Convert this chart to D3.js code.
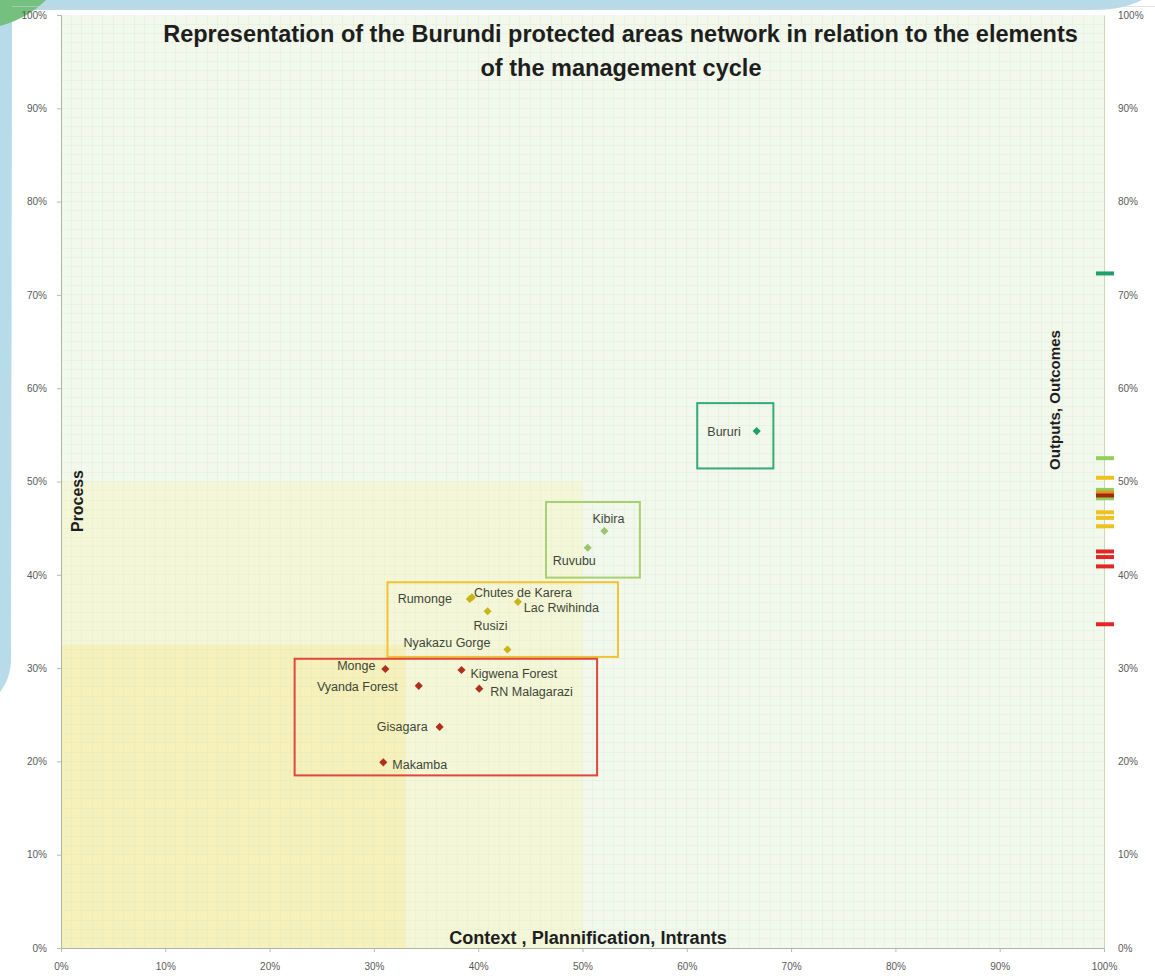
<!DOCTYPE html>
<html><head><meta charset="utf-8">
<script src="https://cdn.jsdelivr.net/npm/d3@7"></script>
<style>body{margin:0;background:#fff}svg{display:block}</style>
</head><body><svg id="c" width="1155" height="979"></svg>
<script>
// ---- data ----
const sites = ["Bururi","Kibira","Ruvubu","Rumonge","Chutes de Karera","Lac Rwihinda","Rusizi","Nyakazu Gorge","Monge","Kigwena Forest","Vyanda Forest","RN Malagarazi","Gisagara","Makamba"];
const siteGroup = ["g1","g2","g2","g3","g3","g3","g3","g3","g4","g4","g4","g4","g4","g4"];
const contextScore = [66.7,52.1,50.5,39.2,39.4,43.8,40.9,42.8,31.1,38.4,34.3,40.1,36.3,30.9];
const processScore = [55.4,44.7,42.9,37.4,37.6,37.1,36.1,32.0,29.9,29.8,28.1,27.8,23.7,19.9];
const outputValues = [72.3,52.5,49.1,48.2,50.4,48.8,46.7,46.1,45.2,48.5,42.5,41.9,40.9,34.7];
const outputGroup  = ["g1","g2","g2","g2","g3","g3o","g3","g3","g3","g4d","g4","g4","g4","g4"];
const groups = ["g1","g2","g3","g4"];
const boxX0 = [61.0,46.5,31.3,22.4];
const boxX1 = [68.3,55.5,53.4,51.4];
const boxY0 = [51.4,39.7,31.2,18.5];
const boxY1 = [58.4,47.8,39.2,31.0];
const zoneX = [100,50,33];
const zoneY = [100,50,32.5];
const tickValues = [0,10,20,30,40,50,60,70,80,90,100];

// ---- styling (not data) ----
const markColor = {g1:"#1f9e6e",g2:"#9cc46e",g3:"#c9b518",g4:"#b0301f"};
const boxColor  = {g1:"#35a97a",g2:"#a8cf72",g3:"#f0c234",g4:"#e0463e"};
const tickColor = {g1:"#1f9e6e",g2:"#92cf5e",g3:"#f0c020",g3o:"#e8901c",g4:"#e22626",g4d:"#a2280e"};
const zoneColor = ["#f2f8ec","#f4f6d8","#f6f0ba"];
const labelPlace = {
  "Bururi":["end",-16,5], "Kibira":["start",-12,-8], "Ruvubu":["start",-35,17],
  "Rumonge":["end",-18,4], "Chutes de Karera":["start",2,0], "Lac Rwihinda":["start",6,10],
  "Rusizi":["middle",3,19], "Nyakazu Gorge":["end",-17,-2], "Monge":["end",-10,1],
  "Kigwena Forest":["start",9,8], "Vyanda Forest":["end",-21,5], "RN Malagarazi":["start",11,7],
  "Gisagara":["end",-12,4], "Makamba":["start",9,7]
};
const NARROW = "'Liberation Sans Narrow','Liberation Sans',Arial,sans-serif";

const svg = d3.select("#c");
const x = d3.scaleLinear().domain([0,100]).range([61,1104]);
const y = d3.scaleLinear().domain([0,100]).range([948,15]);

// decorative background
svg.append("path")
  .attr("d","M0,0 L1142,0 C1128,7 1112,10 1092,10 L14,10 L12,12 L11,662 C10,676 5,686 0,692 Z")
  .attr("fill","#b7dbe9");
svg.append("path").attr("d","M0,0 L46,0 C34,12 18,21 0,26 Z").attr("fill","#74c07e");
svg.append("line").attr("x1",12).attr("x2",1155).attr("y1",6.5).attr("y2",6.5)
  .attr("stroke","#d0d0d0").attr("stroke-width",1).attr("opacity",0.6);

// zones
svg.append("g").selectAll("rect").data(zoneX).join("rect")
  .attr("x",x(0)).attr("y",(d,i)=>y(zoneY[i]))
  .attr("width",d=>x(d)-x(0)).attr("height",(d,i)=>y(0)-y(zoneY[i]))
  .attr("fill",(d,i)=>zoneColor[i]);

// fine grid every 1%
const grid = svg.append("g").attr("stroke","#cfe4bf").attr("stroke-width",0.6).attr("opacity",0.35).attr("shape-rendering","crispEdges");
const g1 = d3.range(1,100);
grid.selectAll("line.v").data(g1).join("line").attr("class","v")
  .attr("x1",d=>x(d)).attr("x2",d=>x(d)).attr("y1",y(100)).attr("y2",y(0));
grid.selectAll("line.h").data(g1).join("line").attr("class","h")
  .attr("y1",d=>y(d)).attr("y2",d=>y(d)).attr("x1",x(0)).attr("x2",x(100));

// axes
const fmt = d=>d+"%";
const axL = svg.append("g").attr("transform",`translate(${x(0)},0)`)
  .call(d3.axisLeft(y).tickValues(tickValues).tickFormat(fmt).tickSize(4).tickPadding(10));
const axB = svg.append("g").attr("transform",`translate(0,${y(0)})`)
  .call(d3.axisBottom(x).tickValues(tickValues).tickFormat(fmt).tickSize(4).tickPadding(11));
const axR = svg.append("g").attr("transform",`translate(${x(100)},0)`)
  .call(d3.axisRight(y).tickValues(tickValues).tickFormat(fmt).tickSize(0).tickPadding(14));
[axL,axB,axR].forEach(a=>{
  a.selectAll("text").attr("font-family",NARROW).attr("font-size",10).attr("fill","#5a5a5a");
  a.selectAll(".tick line").attr("stroke","#b8b8b8");
});
axL.select(".domain").attr("stroke","#aab8a0");
axB.select(".domain").attr("stroke","#aab8a0");
axR.select(".domain").attr("stroke","#c6dcb4");

// output markers on right axis
const order = outputValues.map((v,i)=>i).sort((a,b)=>{
  const rank = {g2:0,g1:0,g3:1,g3o:2,g4:3,g4d:4};
  return rank[outputGroup[a]]-rank[outputGroup[b]];
});
svg.append("g").selectAll("rect").data(order).join("rect")
  .attr("x",x(100)-8).attr("width",18)
  .attr("y",i=>y(outputValues[i])-2).attr("height",4)
  .attr("fill",i=>tickColor[outputGroup[i]]);

// group boxes
svg.append("g").selectAll("rect").data(groups).join("rect")
  .attr("x",(g,i)=>x(boxX0[i])).attr("y",(g,i)=>y(boxY1[i]))
  .attr("width",(g,i)=>x(boxX1[i])-x(boxX0[i])).attr("height",(g,i)=>y(boxY0[i])-y(boxY1[i]))
  .attr("fill","none").attr("stroke",g=>boxColor[g]).attr("stroke-width",2);

// points
const idx = d3.range(sites.length);
svg.append("g").selectAll("path").data(idx).join("path")
  .attr("d",d3.symbol(d3.symbolDiamond2,42))
  .attr("transform",i=>`translate(${x(contextScore[i])},${y(processScore[i])})`)
  .attr("fill",i=>markColor[siteGroup[i]]);

// labels
svg.append("g").selectAll("text").data(idx).join("text")
  .attr("x",i=>x(contextScore[i])+labelPlace[sites[i]][1])
  .attr("y",i=>y(processScore[i])+labelPlace[sites[i]][2])
  .attr("text-anchor",i=>labelPlace[sites[i]][0])
  .attr("font-family","'Liberation Sans',Arial,sans-serif").attr("font-size",12.5)
  .attr("fill","#3f4636").text(i=>sites[i]);

// fit helper
function fit(sel,w){
  const n=sel.node(); const cur=+sel.attr("font-size"); const L=n.getComputedTextLength();
  if(L>0) sel.attr("font-size",(cur*w/L).toFixed(2));
}

// titles
const t1 = svg.append("text").attr("x",620.5).attr("y",42).attr("text-anchor","middle")
  .attr("font-family",NARROW).attr("font-weight","bold").attr("font-size",21).attr("fill","#1e1e1e")
  .text("Representation of the Burundi protected areas network in relation to the elements");
fit(t1,915);
const t2 = svg.append("text").attr("x",621).attr("y",76).attr("text-anchor","middle")
  .attr("font-family",NARROW).attr("font-weight","bold").attr("font-size",+t1.attr("font-size")).attr("fill","#1e1e1e")
  .text("of the management cycle");

const xt = svg.append("text").attr("x",588).attr("y",944).attr("text-anchor","middle")
  .attr("font-family",NARROW).attr("font-weight","bold").attr("font-size",16).attr("fill","#1e1e1e")
  .text("Context , Plannification, Intrants");
fit(xt,278);
const yt = svg.append("text").attr("transform","translate(83,501) rotate(-90)").attr("text-anchor","middle")
  .attr("font-family",NARROW).attr("font-weight","bold").attr("font-size",16).attr("fill","#1e1e1e")
  .text("Process");
fit(yt,62);
const rt = svg.append("text").attr("transform","translate(1060,400) rotate(-90)").attr("text-anchor","middle")
  .attr("font-family",NARROW).attr("font-weight","bold").attr("font-size",16).attr("fill","#1e1e1e")
  .text("Outputs, Outcomes");
fit(rt,140);
</script></body></html>
